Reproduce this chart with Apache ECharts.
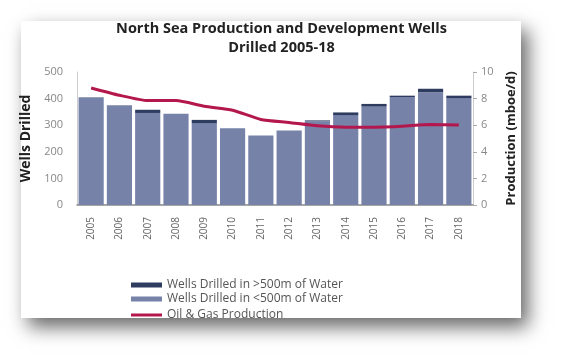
<!DOCTYPE html>
<html>
<head>
<meta charset="utf-8">
<script src="https://cdn.jsdelivr.net/npm/echarts@6/dist/echarts.min.js"></script>
<style>
html,body{margin:0;padding:0;background:#fff;}
#c{width:563px;height:361px;}
</style>
</head>
<body>
<div id="c"></div>
<script>
const years = ['2005','2006','2007','2008','2009','2010','2011','2012','2013','2014','2015','2016','2017','2018'];
const shallowWells = [405, 375, 346, 343, 308, 289, 261, 280, 315, 338, 370, 406, 424, 402];
const deepWells = [0, 0, 12, 0, 12, 0, 0, 0, 3, 10, 10, 5, 13, 9];
const production = [8.8, 8.25, 7.85, 7.85, 7.42, 7.13, 6.43, 6.2, 5.95, 5.85, 5.85, 5.92, 6.05, 6.02];
const leftTicks = [0, 100, 200, 300, 400, 500];
const rightTicks = [0, 2, 4, 6, 8, 10];

const FONT = '"Open Sans", Lato, sans-serif';
const chart = echarts.init(document.getElementById('c'), null, {renderer: 'canvas'});
const legendText = {color: '#555', fontSize: 12, fontFamily: FONT};
chart.setOption({
  backgroundColor: '#fff',
  animation: false,
  graphic: [{
    type: 'rect', z: -10, silent: true,
    shape: {x: 21, y: 21, width: 500, height: 297},
    style: {fill: '#fff', shadowBlur: 18, shadowOffsetX: 7, shadowOffsetY: 9, shadowColor: 'rgba(0,0,0,0.6)'}
  }],
  title: {
    text: 'North Sea Production and Development Wells\nDrilled 2005-18',
    left: 'center', top: 14,
    textStyle: {fontSize: 14.5, fontWeight: 'bold', lineHeight: 19, color: '#222', fontFamily: FONT}
  },
  legend: [
    {data: ['Wells Drilled in >500m of Water'], left: 126, top: 274, icon: 'rect', itemWidth: 31, itemHeight: 5, textStyle: legendText},
    {data: ['Wells Drilled in <500m of Water'], left: 126, top: 288, icon: 'rect', itemWidth: 31, itemHeight: 5, textStyle: legendText},
    {data: ['Oil & Gas Production'], left: 126, top: 304, icon: 'rect', itemWidth: 31, itemHeight: 3, textStyle: legendText}
  ],
  grid: {left: 77, right: 90, top: 72, bottom: 156},
  xAxis: {
    type: 'category', data: years,
    axisLine: {lineStyle: {color: '#888', width: 1.5}},
    axisTick: {show: false},
    axisLabel: {rotate: 90, color: '#666', fontSize: 10, margin: 12, fontFamily: FONT}
  },
  yAxis: [{
    type: 'value', min: 0, max: 500, interval: 100,
    name: 'Wells Drilled', nameLocation: 'middle', nameRotate: 90, nameGap: 43,
    nameTextStyle: {fontSize: 14, fontWeight: 'bold', color: '#222', fontFamily: FONT},
    axisLine: {show: true, lineStyle: {color: '#ccc'}},
    axisTick: {show: false},
    splitLine: {show: false},
    axisLabel: {color: '#888', fontSize: 11, margin: 14, fontFamily: FONT}
  }, {
    type: 'value', min: 0, max: 10, interval: 2, position: 'right',
    name: 'Production (mboe/d)', nameLocation: 'middle', nameRotate: 90, nameGap: 31,
    nameTextStyle: {fontSize: 13, fontWeight: 'bold', color: '#222', fontFamily: FONT},
    axisLine: {show: true, lineStyle: {color: '#ccc'}},
    axisTick: {show: true, length: 4, lineStyle: {color: '#aaa'}},
    splitLine: {show: false},
    axisLabel: {color: '#888', fontSize: 11, margin: 8, fontFamily: FONT}
  }],
  series: [{
    name: 'Wells Drilled in <500m of Water', type: 'bar', stack: 'w',
    data: shallowWells, barCategoryGap: '11%',
    itemStyle: {color: '#7682a8'}
  }, {
    name: 'Wells Drilled in >500m of Water', type: 'bar', stack: 'w',
    data: deepWells,
    itemStyle: {color: '#2e3c5f'}
  }, {
    name: 'Oil & Gas Production', type: 'line', yAxisIndex: 1,
    data: production, symbol: 'none', smooth: 0.2,
    lineStyle: {color: '#b4174d', width: 3},
    itemStyle: {color: '#b4174d'}
  }]
});
</script>
</body>
</html>
